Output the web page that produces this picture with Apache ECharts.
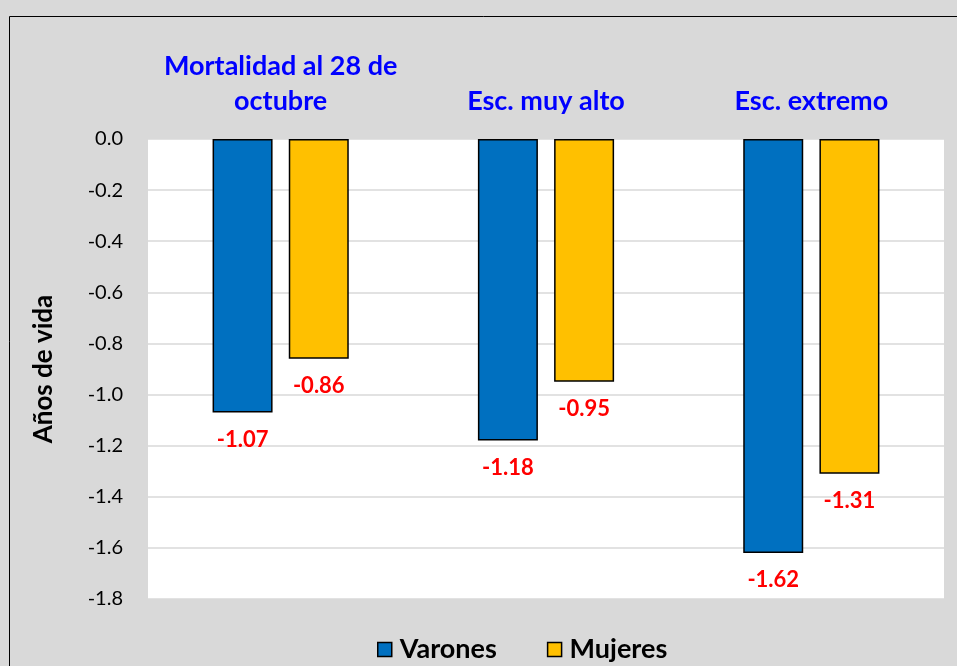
<!DOCTYPE html>
<html><head><meta charset="utf-8">
<script src="https://cdn.jsdelivr.net/npm/echarts@6/dist/echarts.min.js"></script>
<style>html,body{margin:0;padding:0;background:#fff;}#c{width:957px;height:666px;}</style>
</head><body><div id="c"></div>
<script>
const categories = ['Mortalidad al 28 de\noctubre', 'Esc. muy alto', 'Esc. extremo'];
const varones = [-1.07, -1.18, -1.62];
const mujeres = [-0.86, -0.95, -1.31];
const seriesNames = ['Varones', 'Mujeres'];
const yTicks = { min: -1.8, max: 0, interval: 0.2 };

const chart = echarts.init(document.getElementById('c'));
const font = 'Lato, Carlito, "Open Sans", sans-serif';
const labelCfg = {
  show: true, position: 'bottom', distance: 16,
  color: '#ff0000', fontWeight: 'bold', fontSize: 22, fontFamily: font,
  formatter: p => p.value.toFixed(2)
};
chart.setOption({
  backgroundColor: '#d9d9d9',
  animation: false,
  graphic: [{
    type: 'rect', z: 100, silent: true,
    shape: { x: 9.5, y: 16.5, width: 1000, height: 700 },
    style: { fill: 'none', stroke: '#000', lineWidth: 1 }
  }],
  grid: { left: 148, right: 13, top: 139, bottom: 67, show: true, backgroundColor: '#fff', borderWidth: 0 },
  legend: {
    top: 631, left: 372, icon: 'rect', itemWidth: 14, itemHeight: 14, itemGap: 50,
    textStyle: { fontSize: 27, fontWeight: 'bold', color: '#000', fontFamily: font, padding: [0, 0, 0, 3] },
    data: seriesNames.map(n => ({ name: n, itemStyle: { borderColor: '#000', borderWidth: 1.5 } }))
  },
  xAxis: {
    type: 'category', position: 'top', data: categories,
    axisLine: { show: false }, axisTick: { show: false },
    axisLabel: { interval: 0, margin: 20, color: '#0000ff', fontWeight: 'bold', fontSize: 27, lineHeight: 35, fontFamily: font }
  },
  yAxis: {
    type: 'value', min: yTicks.min, max: yTicks.max, interval: yTicks.interval,
    name: 'Años de vida', nameLocation: 'middle', nameGap: 91, nameRotate: 90,
    nameTextStyle: { fontSize: 26, fontWeight: 'bold', color: '#000', fontFamily: font },
    axisLine: { show: false }, axisTick: { show: false },
    axisLabel: { margin: 25, fontSize: 20, color: '#000', fontFamily: font, formatter: v => v.toFixed(1) },
    splitLine: { lineStyle: { color: '#d9d9d9', width: 1.5 } }
  },
  series: [
    { name: seriesNames[0], type: 'bar', data: varones, barWidth: 60, barGap: '27%',
      itemStyle: { color: '#0070c0', borderColor: '#000', borderWidth: 1.5 }, label: labelCfg },
    { name: seriesNames[1], type: 'bar', data: mujeres, barWidth: 60,
      itemStyle: { color: '#ffc000', borderColor: '#000', borderWidth: 1.5 }, label: labelCfg }
  ]
});
</script></body></html>
